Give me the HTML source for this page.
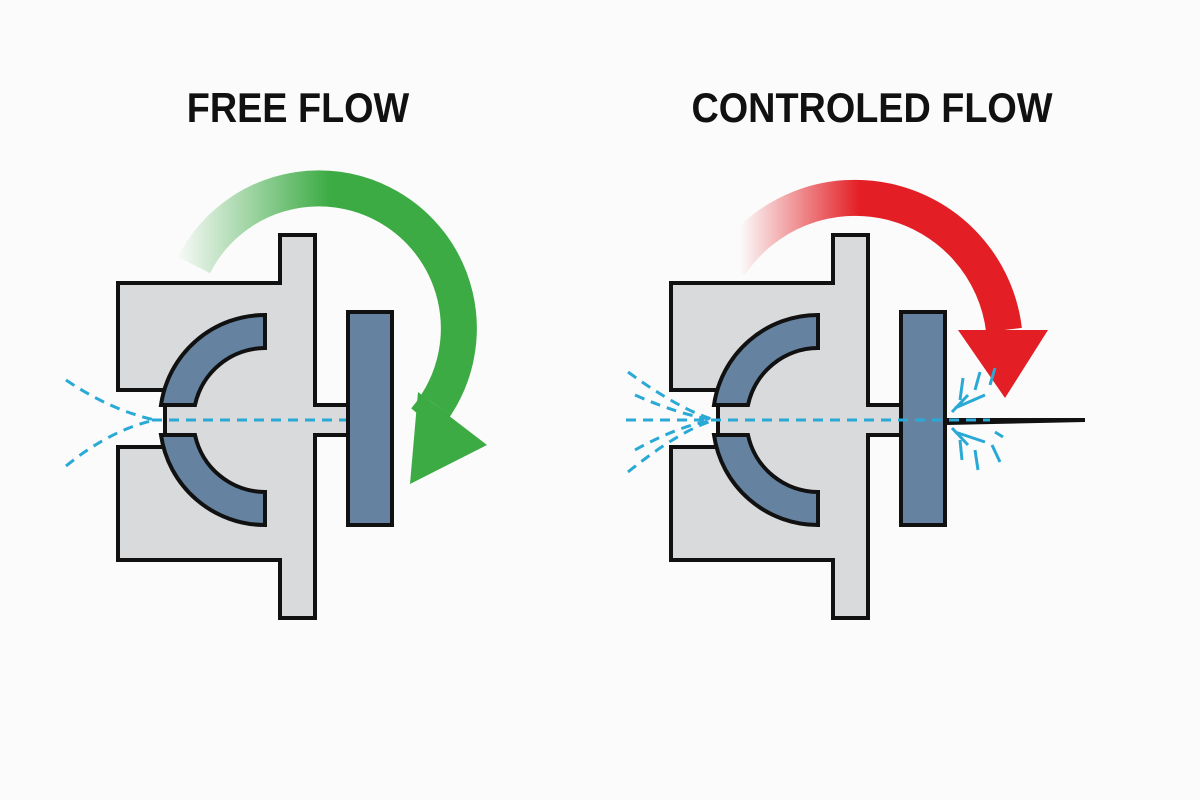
<!DOCTYPE html>
<html><head><meta charset="utf-8"><style>
html,body{margin:0;padding:0;background:#fbfbfb;}
svg{display:block}
</style></head><body>
<svg width="1200" height="800" viewBox="0 0 1200 800" xmlns="http://www.w3.org/2000/svg">
<defs>
<linearGradient id="gg" x1="175" y1="0" x2="330" y2="0" gradientUnits="userSpaceOnUse">
<stop offset="0" stop-color="#3cab44" stop-opacity="0"/><stop offset="1" stop-color="#3cab44"/></linearGradient>
<linearGradient id="rg" x1="740" y1="0" x2="860" y2="0" gradientUnits="userSpaceOnUse">
<stop offset="0" stop-color="#e31e24" stop-opacity="0"/><stop offset="1" stop-color="#e31e24"/></linearGradient>
<g id="dev">
<path d="M118,283 H280 V235 H315 V405 H348 V435 H315 V618 H280 V560 H118 V447 H165 V390 H118 Z" fill="#d9dadc" stroke="#111" stroke-width="4" stroke-linejoin="miter"/>
<path d="M265,315 A105,105 0 0 0 161,405 H195 A72,72 0 0 1 265,348 Z" fill="#6583a0" stroke="#111" stroke-width="4"/>
<path d="M265,525 A105,105 0 0 1 161,435 H195 A72,72 0 0 0 265,492 Z" fill="#6583a0" stroke="#111" stroke-width="4"/>
<rect x="348" y="312" width="44" height="213" fill="#6583a0" stroke="#111" stroke-width="4"/>
</g>
</defs>
<text x="298" y="122" text-anchor="middle" font-family="Liberation Sans, sans-serif" font-weight="bold" font-size="42" fill="#111" transform="translate(298 0) scale(0.9 1) translate(-298 0)">FREE FLOW</text>
<text x="872" y="122" text-anchor="middle" font-family="Liberation Sans, sans-serif" font-weight="bold" font-size="42" fill="#111" transform="translate(872 0) scale(0.9 1) translate(-872 0)">CONTROLED FLOW</text>

<!-- left -->
<path d="M194,265 A140,140 0 1 1 436,405" fill="none" stroke="url(#gg)" stroke-width="36"/>
<path d="M436,405 A140,140 0 0 1 425,420" fill="none" stroke="#3cab44" stroke-width="36"/>
<polygon points="410,484 418,392 487,445" fill="#3cab44"/>
<use href="#dev"/>
<g fill="none" stroke="#2aa9d6" stroke-width="3" stroke-dasharray="10 7">
<path d="M152,420 H346"/>
<path d="M66,380 Q110,410 155,420"/>
<path d="M66,466 Q110,430 155,420"/>
</g>

<!-- right -->
<path d="M730,265 A150,150 0 0 1 1004,330" fill="none" stroke="url(#rg)" stroke-width="36"/>
<polygon points="958,330 1048,330 1005,398" fill="#e31e24"/>
<use href="#dev" transform="translate(553 0)"/>
<polygon points="946,418 1085,418 1085,422 946,425" fill="#111"/>
<g fill="none" stroke="#2aa9d6" stroke-width="3" stroke-dasharray="10 7">
<path d="M626,420 H990"/>
<path d="M628,372 Q680,410 715,420"/>
<path d="M628,472 Q680,430 715,420"/>
<path d="M635,395 Q680,415 715,420"/>
<path d="M635,450 Q680,425 715,420"/>
</g>
<g stroke="#2aa9d6" stroke-width="3" stroke-linecap="butt">
<path d="M952,412 L968,395 M955,408 L985,395 M960,400 L963,378 M975,390 L980,372 M990,385 L995,368 M952,428 L968,445 M955,432 L985,442 M960,440 L962,460 M975,450 L978,470 M992,445 L1000,462 M995,432 L1003,437"/>
</g>
</svg>
</body></html>
